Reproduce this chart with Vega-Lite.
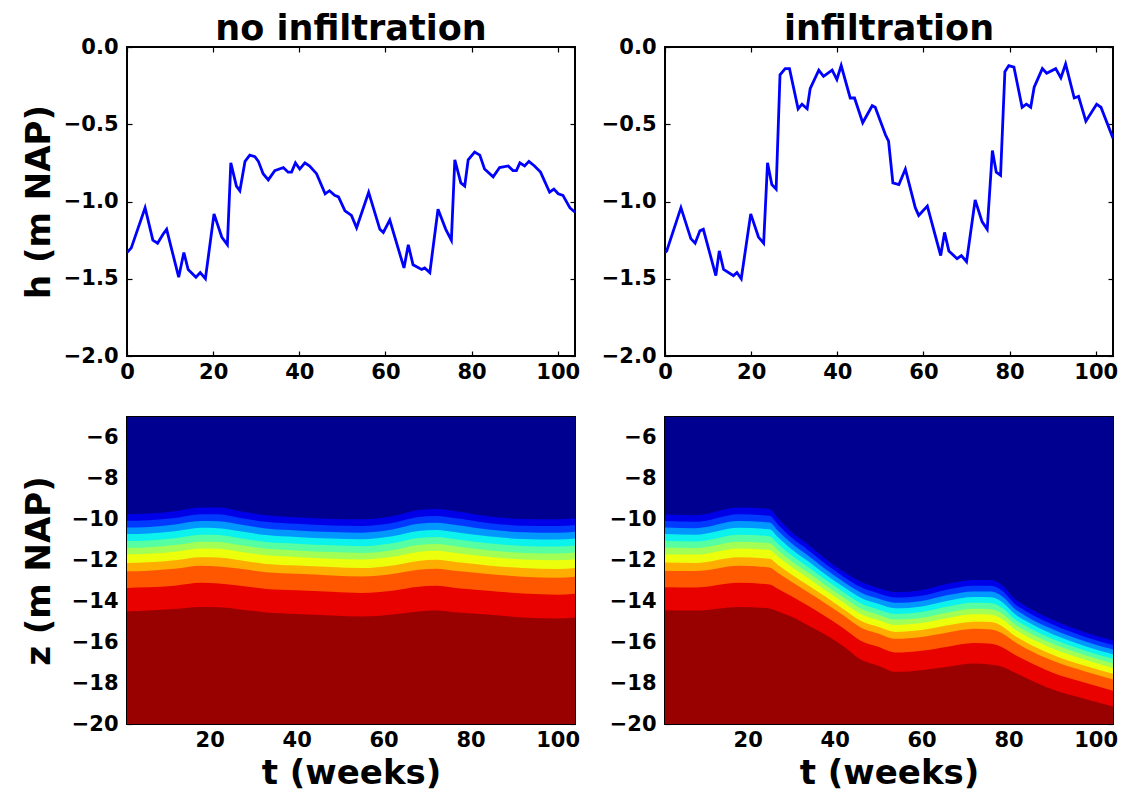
{
  "$schema": "https://vega.github.io/schema/vega-lite/v6.json",
  "autosize": {"type": "none"},
  "padding": {"left": 127, "top": 47, "right": 994, "bottom": 746},
  "background": "#ffffff",
  "datasets": {
    "hL": [
      {"t":0,"h":-1.33},{"t":1,"h":-1.3},{"t":4.2,"h":-1.04},{"t":6,"h":-1.25},{"t":7.1,"h":-1.27},{"t":8.4,"h":-1.21},{"t":9.2,"h":-1.18},{"t":12,"h":-1.49},{"t":13.2,"h":-1.33},{"t":14.2,"h":-1.44},{"t":16,"h":-1.49},{"t":17,"h":-1.46},{"t":18.2,"h":-1.5},{"t":20.2,"h":-1.08},{"t":22,"h":-1.23},{"t":23.3,"h":-1.28},{"t":24.1,"h":-0.75},{"t":25.4,"h":-0.9},{"t":26.2,"h":-0.93},{"t":27.4,"h":-0.74},{"t":28.5,"h":-0.7},{"t":29.7,"h":-0.71},{"t":30.5,"h":-0.74},{"t":31.6,"h":-0.82},{"t":32.8,"h":-0.86},{"t":34.3,"h":-0.8},{"t":36.3,"h":-0.78},{"t":37.4,"h":-0.81},{"t":38.2,"h":-0.81},{"t":39.1,"h":-0.75},{"t":40.1,"h":-0.79},{"t":41.3,"h":-0.75},{"t":42.4,"h":-0.77},{"t":44,"h":-0.82},{"t":46,"h":-0.95},{"t":47,"h":-0.93},{"t":48.2,"h":-0.96},{"t":49.1,"h":-0.97},{"t":50.6,"h":-1.06},{"t":52.1,"h":-1.09},{"t":53.3,"h":-1.17},{"t":56.1,"h":-0.94},{"t":58.7,"h":-1.18},{"t":59.5,"h":-1.2},{"t":61,"h":-1.12},{"t":64.3,"h":-1.43},{"t":65.3,"h":-1.28},{"t":66.4,"h":-1.41},{"t":68.4,"h":-1.44},{"t":69.1,"h":-1.43},{"t":70.3,"h":-1.46},{"t":72.2,"h":-1.05},{"t":74,"h":-1.18},{"t":75.3,"h":-1.25},{"t":76.1,"h":-0.73},{"t":77.5,"h":-0.88},{"t":78.4,"h":-0.9},{"t":79.2,"h":-0.73},{"t":80.7,"h":-0.68},{"t":81.9,"h":-0.7},{"t":83,"h":-0.79},{"t":85,"h":-0.84},{"t":86.5,"h":-0.78},{"t":88.5,"h":-0.77},{"t":89.6,"h":-0.8},{"t":90.4,"h":-0.8},{"t":91.2,"h":-0.75},{"t":92.3,"h":-0.77},{"t":93.3,"h":-0.74},{"t":94.6,"h":-0.77},{"t":96,"h":-0.81},{"t":98.1,"h":-0.94},{"t":99.1,"h":-0.92},{"t":100.1,"h":-0.95},{"t":101.2,"h":-0.96},{"t":102.8,"h":-1.04},{"t":104,"h":-1.07}
    ],
    "hR": [
      {"t":0,"h":-1.33},{"t":0.4,"h":-1.32},{"t":3.7,"h":-1.04},{"t":6,"h":-1.24},{"t":7,"h":-1.27},{"t":8.1,"h":-1.19},{"t":8.9,"h":-1.18},{"t":11.8,"h":-1.48},{"t":12.6,"h":-1.32},{"t":13.6,"h":-1.44},{"t":15.9,"h":-1.48},{"t":16.7,"h":-1.46},{"t":17.7,"h":-1.5},{"t":19.9,"h":-1.08},{"t":21.7,"h":-1.23},{"t":22.9,"h":-1.27},{"t":23.8,"h":-0.75},{"t":24.8,"h":-0.89},{"t":25.8,"h":-0.92},{"t":26.7,"h":-0.18},{"t":27.9,"h":-0.14},{"t":28.9,"h":-0.14},{"t":30.9,"h":-0.4},{"t":31.8,"h":-0.37},{"t":33,"h":-0.4},{"t":33.7,"h":-0.27},{"t":35.7,"h":-0.15},{"t":36.8,"h":-0.19},{"t":38.8,"h":-0.15},{"t":39.9,"h":-0.21},{"t":40.9,"h":-0.12},{"t":43,"h":-0.33},{"t":44,"h":-0.33},{"t":45.9,"h":-0.49},{"t":48.1,"h":-0.38},{"t":48.8,"h":-0.39},{"t":51.2,"h":-0.57},{"t":51.9,"h":-0.61},{"t":52.9,"h":-0.88},{"t":54.3,"h":-0.89},{"t":55.8,"h":-0.79},{"t":58.1,"h":-1.04},{"t":58.9,"h":-1.09},{"t":60.9,"h":-1.03},{"t":64,"h":-1.35},{"t":64.9,"h":-1.2},{"t":65.9,"h":-1.32},{"t":67.8,"h":-1.37},{"t":68.8,"h":-1.35},{"t":70,"h":-1.39},{"t":72,"h":-0.99},{"t":73.6,"h":-1.13},{"t":74.8,"h":-1.18},{"t":76,"h":-0.67},{"t":76.9,"h":-0.81},{"t":77.9,"h":-0.83},{"t":78.9,"h":-0.16},{"t":79.8,"h":-0.12},{"t":81,"h":-0.13},{"t":82.9,"h":-0.39},{"t":83.9,"h":-0.37},{"t":84.9,"h":-0.39},{"t":85.7,"h":-0.26},{"t":87.6,"h":-0.14},{"t":88.6,"h":-0.17},{"t":90.7,"h":-0.14},{"t":91.9,"h":-0.2},{"t":93,"h":-0.11},{"t":95,"h":-0.33},{"t":96,"h":-0.32},{"t":97.7,"h":-0.48},{"t":100.2,"h":-0.37},{"t":101.2,"h":-0.39},{"t":104,"h":-0.59}
    ],
    "zL": [
      {"t":1,"b0":-5,"b1":-9.75,"b2":-10.07,"b3":-10.4,"b4":-10.72,"b5":-11.06,"b6":-11.39,"b7":-11.71,"b8":-12.13,"b9":-12.54,"b10":-13.35,"b11":-14.5},
      {"t":6,"b0":-5,"b1":-9.72,"b2":-10.04,"b3":-10.37,"b4":-10.69,"b5":-11.03,"b6":-11.36,"b7":-11.68,"b8":-12.1,"b9":-12.51,"b10":-13.32,"b11":-14.45},
      {"t":12,"b0":-5,"b1":-9.6,"b2":-9.93,"b3":-10.25,"b4":-10.58,"b5":-10.92,"b6":-11.26,"b7":-11.58,"b8":-12.0,"b9":-12.42,"b10":-13.24,"b11":-14.38},
      {"t":18,"b0":-5,"b1":-9.42,"b2":-9.75,"b3":-10.08,"b4":-10.41,"b5":-10.75,"b6":-11.09,"b7":-11.42,"b8":-11.85,"b9":-12.27,"b10":-13.1,"b11":-14.28},
      {"t":22,"b0":-5,"b1":-9.42,"b2":-9.75,"b3":-10.09,"b4":-10.43,"b5":-10.77,"b6":-11.11,"b7":-11.44,"b8":-11.87,"b9":-12.3,"b10":-13.13,"b11":-14.3},
      {"t":27,"b0":-5,"b1":-9.6,"b2":-9.93,"b3":-10.25,"b4":-10.58,"b5":-10.92,"b6":-11.26,"b7":-11.58,"b8":-12.0,"b9":-12.42,"b10":-13.24,"b11":-14.4},
      {"t":33,"b0":-5,"b1":-9.8,"b2":-10.12,"b3":-10.45,"b4":-10.77,"b5":-11.11,"b6":-11.44,"b7":-11.76,"b8":-12.18,"b9":-12.59,"b10":-13.4,"b11":-14.55},
      {"t":40,"b0":-5,"b1":-9.9,"b2":-10.22,"b3":-10.54,"b4":-10.86,"b5":-11.19,"b6":-11.52,"b7":-11.84,"b8":-12.25,"b9":-12.66,"b10":-13.46,"b11":-14.62},
      {"t":48,"b0":-5,"b1":-9.98,"b2":-10.3,"b3":-10.62,"b4":-10.94,"b5":-11.27,"b6":-11.6,"b7":-11.92,"b8":-12.33,"b9":-12.74,"b10":-13.54,"b11":-14.7},
      {"t":55,"b0":-5,"b1":-10.0,"b2":-10.32,"b3":-10.65,"b4":-10.97,"b5":-11.31,"b6":-11.64,"b7":-11.96,"b8":-12.38,"b9":-12.79,"b10":-13.6,"b11":-14.75},
      {"t":62,"b0":-5,"b1":-9.85,"b2":-10.18,"b3":-10.5,"b4":-10.83,"b5":-11.17,"b6":-11.51,"b7":-11.83,"b8":-12.25,"b9":-12.67,"b10":-13.49,"b11":-14.65},
      {"t":68,"b0":-5,"b1":-9.55,"b2":-9.89,"b3":-10.22,"b4":-10.57,"b5":-10.91,"b6":-11.26,"b7":-11.59,"b8":-12.03,"b9":-12.46,"b10":-13.3,"b11":-14.5},
      {"t":72,"b0":-5,"b1":-9.5,"b2":-9.84,"b3":-10.17,"b4":-10.52,"b5":-10.86,"b6":-11.21,"b7":-11.54,"b8":-11.98,"b9":-12.41,"b10":-13.25,"b11":-14.45},
      {"t":77,"b0":-5,"b1":-9.62,"b2":-9.96,"b3":-10.29,"b4":-10.64,"b5":-10.98,"b6":-11.33,"b7":-11.66,"b8":-12.1,"b9":-12.53,"b10":-13.37,"b11":-14.55},
      {"t":84,"b0":-5,"b1":-9.85,"b2":-10.18,"b3":-10.5,"b4":-10.83,"b5":-11.17,"b6":-11.51,"b7":-11.83,"b8":-12.25,"b9":-12.67,"b10":-13.49,"b11":-14.65},
      {"t":92,"b0":-5,"b1":-9.98,"b2":-10.31,"b3":-10.63,"b4":-10.96,"b5":-11.3,"b6":-11.64,"b7":-11.96,"b8":-12.38,"b9":-12.8,"b10":-13.62,"b11":-14.8},
      {"t":100,"b0":-5,"b1":-10.0,"b2":-10.33,"b3":-10.66,"b4":-10.99,"b5":-11.33,"b6":-11.67,"b7":-12.0,"b8":-12.43,"b9":-12.85,"b10":-13.68,"b11":-14.85},
      {"t":104,"b0":-5,"b1":-9.95,"b2":-10.28,"b3":-10.61,"b4":-10.94,"b5":-11.28,"b6":-11.62,"b7":-11.95,"b8":-12.38,"b9":-12.8,"b10":-13.63,"b11":-14.8}
    ],
    "zR": [
      {"t":1,"b0":-5,"b1":-9.76,"b2":-10.08,"b3":-10.4,"b4":-10.72,"b5":-11.05,"b6":-11.38,"b7":-11.7,"b8":-12.11,"b9":-12.52,"b10":-13.32,"b11":-14.44},
      {"t":8,"b0":-5,"b1":-9.8,"b2":-10.12,"b3":-10.43,"b4":-10.75,"b5":-11.08,"b6":-11.4,"b7":-11.72,"b8":-12.13,"b9":-12.53,"b10":-13.33,"b11":-14.46},
      {"t":18,"b0":-5,"b1":-9.42,"b2":-9.75,"b3":-10.08,"b4":-10.41,"b5":-10.75,"b6":-11.09,"b7":-11.42,"b8":-11.85,"b9":-12.27,"b10":-13.1,"b11":-14.28},
      {"t":25,"b0":-5,"b1":-9.5,"b2":-9.83,"b3":-10.16,"b4":-10.49,"b5":-10.83,"b6":-11.17,"b7":-11.5,"b8":-11.93,"b9":-12.35,"b10":-13.18,"b11":-14.36},
      {"t":27,"b0":-5,"b1":-9.95,"b2":-10.26,"b3":-10.57,"b4":-10.88,"b5":-11.2,"b6":-11.52,"b7":-11.83,"b8":-12.23,"b9":-12.62,"b10":-13.4,"b11":-14.5},
      {"t":30,"b0":-5,"b1":-10.6,"b2":-10.88,"b3":-11.16,"b4":-11.45,"b5":-11.74,"b6":-12.03,"b7":-12.31,"b8":-12.68,"b9":-13.04,"b10":-13.75,"b11":-14.75},
      {"t":34,"b0":-5,"b1":-11.25,"b2":-11.52,"b3":-11.79,"b4":-12.06,"b5":-12.34,"b6":-12.61,"b7":-12.88,"b8":-13.23,"b9":-13.57,"b10":-14.24,"b11":-15.2},
      {"t":38,"b0":-5,"b1":-11.95,"b2":-12.2,"b3":-12.45,"b4":-12.71,"b5":-12.97,"b6":-13.23,"b7":-13.48,"b8":-13.8,"b9":-14.12,"b10":-14.76,"b11":-15.65},
      {"t":42,"b0":-5,"b1":-12.55,"b2":-12.8,"b3":-13.05,"b4":-13.3,"b5":-13.55,"b6":-13.81,"b7":-14.06,"b8":-14.38,"b9":-14.69,"b10":-15.32,"b11":-16.2},
      {"t":46,"b0":-5,"b1":-13.05,"b2":-13.31,"b3":-13.57,"b4":-13.83,"b5":-14.1,"b6":-14.36,"b7":-14.62,"b8":-14.95,"b9":-15.28,"b10":-15.93,"b11":-16.85},
      {"t":50,"b0":-5,"b1":-13.35,"b2":-13.61,"b3":-13.87,"b4":-14.13,"b5":-14.4,"b6":-14.66,"b7":-14.92,"b8":-15.25,"b9":-15.58,"b10":-16.23,"b11":-17.15},
      {"t":54,"b0":-5,"b1":-13.55,"b2":-13.82,"b3":-14.08,"b4":-14.35,"b5":-14.62,"b6":-14.9,"b7":-15.16,"b8":-15.5,"b9":-15.84,"b10":-16.51,"b11":-17.45},
      {"t":60,"b0":-5,"b1":-13.46,"b2":-13.73,"b3":-13.99,"b4":-14.26,"b5":-14.53,"b6":-14.81,"b7":-15.07,"b8":-15.41,"b9":-15.75,"b10":-16.42,"b11":-17.37},
      {"t":66,"b0":-5,"b1":-13.15,"b2":-13.43,"b3":-13.7,"b4":-13.98,"b5":-14.26,"b6":-14.55,"b7":-14.82,"b8":-15.18,"b9":-15.53,"b10":-16.22,"b11":-17.2},
      {"t":72,"b0":-5,"b1":-12.97,"b2":-13.25,"b3":-13.52,"b4":-13.8,"b5":-14.08,"b6":-14.37,"b7":-14.64,"b8":-15.0,"b9":-15.35,"b10":-16.04,"b11":-17.04},
      {"t":76,"b0":-5,"b1":-12.97,"b2":-13.25,"b3":-13.53,"b4":-13.81,"b5":-14.1,"b6":-14.39,"b7":-14.66,"b8":-15.02,"b9":-15.38,"b10":-16.08,"b11":-17.1},
      {"t":78.5,"b0":-5,"b1":-13.22,"b2":-13.49,"b3":-13.76,"b4":-14.04,"b5":-14.32,"b6":-14.6,"b7":-14.87,"b8":-15.22,"b9":-15.57,"b10":-16.25,"b11":-17.2},
      {"t":81.5,"b0":-5,"b1":-13.9,"b2":-14.15,"b3":-14.39,"b4":-14.64,"b5":-14.89,"b6":-15.14,"b7":-15.39,"b8":-15.7,"b9":-16.01,"b10":-16.63,"b11":-17.5},
      {"t":84,"b0":-5,"b1":-14.25,"b2":-14.49,"b3":-14.73,"b4":-14.97,"b5":-15.21,"b6":-15.46,"b7":-15.7,"b8":-16.0,"b9":-16.31,"b10":-16.9,"b11":-17.75},
      {"t":90,"b0":-5,"b1":-14.9,"b2":-15.13,"b3":-15.36,"b4":-15.6,"b5":-15.84,"b6":-16.07,"b7":-16.3,"b8":-16.6,"b9":-16.9,"b10":-17.48,"b11":-18.3},
      {"t":98,"b0":-5,"b1":-15.55,"b2":-15.77,"b3":-15.99,"b4":-16.22,"b5":-16.44,"b6":-16.67,"b7":-16.89,"b8":-17.18,"b9":-17.46,"b10":-18.01,"b11":-18.8},
      {"t":104,"b0":-5,"b1":-15.92,"b2":-16.14,"b3":-16.36,"b4":-16.59,"b5":-16.81,"b6":-17.04,"b7":-17.26,"b8":-17.55,"b9":-17.83,"b10":-18.38,"b11":-19.15}
    ]
  },
  "concat": [
    {
      "title": "no infiltration",
      "width": 448, "height": 309,
      "data": {"name": "hL"},
      "layer": [
        {"mark": {"type": "line", "color": "#0000ff", "strokeWidth": 2.8, "clip": true},
         "encoding": {
           "x": {"field": "t", "type": "quantitative", "scale": {"domain": [0, 104], "nice": false, "zero": false}, "axis": {"values": [0, 20, 40, 60, 80, 100], "title": null}},
           "y": {"field": "h", "type": "quantitative", "scale": {"domain": [-2, 0], "nice": false, "zero": false}, "axis": {"values": [-2, -1.5, -1, -0.5, 0], "format": ".1f", "title": "h (m NAP)", "titleX": -78, "titleY": 154.5, "titleAngle": 270, "titleAlign": "center", "titleBaseline": "alphabetic"}}
         }},
        {"mark": {"type": "point", "opacity": 0},
         "encoding": {
           "x": {"field": "t", "type": "quantitative", "axis": {"orient": "top", "labels": false, "values": [0, 20, 40, 60, 80, 100], "title": null}},
           "y": {"field": "h", "type": "quantitative", "axis": {"orient": "right", "labels": false, "values": [-2, -1.5, -1, -0.5, 0], "title": null}}
         }}
      ],
      "resolve": {"axis": {"x": "independent", "y": "independent"}}
    },
    {
      "title": "infiltration",
      "width": 448, "height": 309,
      "data": {"name": "hR"},
      "layer": [
        {"mark": {"type": "line", "color": "#0000ff", "strokeWidth": 2.8, "clip": true},
         "encoding": {
           "x": {"field": "t", "type": "quantitative", "scale": {"domain": [0, 104], "nice": false, "zero": false}, "axis": {"values": [0, 20, 40, 60, 80, 100], "title": null}},
           "y": {"field": "h", "type": "quantitative", "scale": {"domain": [-2, 0], "nice": false, "zero": false}, "axis": {"values": [-2, -1.5, -1, -0.5, 0], "format": ".1f", "title": null}}
         }},
        {"mark": {"type": "point", "opacity": 0},
         "encoding": {
           "x": {"field": "t", "type": "quantitative", "axis": {"orient": "top", "labels": false, "values": [0, 20, 40, 60, 80, 100], "title": null}},
           "y": {"field": "h", "type": "quantitative", "axis": {"orient": "right", "labels": false, "values": [-2, -1.5, -1, -0.5, 0], "title": null}}
         }}
      ],
      "resolve": {"axis": {"x": "independent", "y": "independent"}}
    },
    {
      "width": 448, "height": 307,
      "data": {"name": "zL"},
      "transform": [{"fold": ["b0", "b1", "b2", "b3", "b4", "b5", "b6", "b7", "b8", "b9", "b10", "b11"], "as": ["k", "z"]}],
      "layer": [
        {"mark": {"type": "area", "interpolate": "monotone", "clip": true},
         "encoding": {
           "x": {"field": "t", "type": "quantitative", "scale": {"domain": [1, 104], "nice": false, "zero": false}, "axis": {"values": [20, 40, 60, 80, 100], "title": "t (weeks)", "titleX": 224, "titleY": 59, "titleAlign": "center", "titleBaseline": "alphabetic"}},
           "y": {"field": "z", "type": "quantitative", "scale": {"domain": [-20, -5], "nice": false, "zero": false}, "axis": {"values": [-20, -18, -16, -14, -12, -10, -8, -6], "title": "z (m NAP)", "titleX": -78, "titleY": 153.5, "titleAngle": 270, "titleAlign": "center", "titleBaseline": "alphabetic"}},
           "y2": {"datum": -20},
           "color": {"field": "k", "type": "nominal", "legend": null, "scale": {"domain": ["b0", "b1", "b2", "b3", "b4", "b5", "b6", "b7", "b8", "b9", "b10", "b11"], "range": ["#000090", "#0000e8", "#003aff", "#0097ff", "#0bf3ec", "#56ffa1", "#a1ff56", "#ecff0b", "#ffad00", "#ff5700", "#e90100", "#990000"]}}
         }},
        {"mark": {"type": "point", "opacity": 0},
         "encoding": {
           "x": {"field": "t", "type": "quantitative", "axis": {"orient": "top", "labels": false, "values": [20, 40, 60, 80, 100], "title": null}},
           "y": {"field": "z", "type": "quantitative", "axis": {"orient": "right", "labels": false, "values": [-20, -18, -16, -14, -12, -10, -8, -6], "title": null}}
         }}
      ],
      "resolve": {"axis": {"x": "independent", "y": "independent"}}
    },
    {
      "width": 448, "height": 307,
      "data": {"name": "zR"},
      "transform": [{"fold": ["b0", "b1", "b2", "b3", "b4", "b5", "b6", "b7", "b8", "b9", "b10", "b11"], "as": ["k", "z"]}],
      "layer": [
        {"mark": {"type": "area", "interpolate": "monotone", "clip": true},
         "encoding": {
           "x": {"field": "t", "type": "quantitative", "scale": {"domain": [1, 104], "nice": false, "zero": false}, "axis": {"values": [20, 40, 60, 80, 100], "title": "t (weeks)", "titleX": 224, "titleY": 59, "titleAlign": "center", "titleBaseline": "alphabetic"}},
           "y": {"field": "z", "type": "quantitative", "scale": {"domain": [-20, -5], "nice": false, "zero": false}, "axis": {"values": [-20, -18, -16, -14, -12, -10, -8, -6], "title": null}},
           "y2": {"datum": -20},
           "color": {"field": "k", "type": "nominal", "legend": null, "scale": {"domain": ["b0", "b1", "b2", "b3", "b4", "b5", "b6", "b7", "b8", "b9", "b10", "b11"], "range": ["#000090", "#0000e8", "#003aff", "#0097ff", "#0bf3ec", "#56ffa1", "#a1ff56", "#ecff0b", "#ffad00", "#ff5700", "#e90100", "#990000"]}}
         }},
        {"mark": {"type": "point", "opacity": 0},
         "encoding": {
           "x": {"field": "t", "type": "quantitative", "axis": {"orient": "top", "labels": false, "values": [20, 40, 60, 80, 100], "title": null}},
           "y": {"field": "z", "type": "quantitative", "axis": {"orient": "right", "labels": false, "values": [-20, -18, -16, -14, -12, -10, -8, -6], "title": null}}
         }}
      ],
      "resolve": {"axis": {"x": "independent", "y": "independent"}}
    }
  ],
  "columns": 2,
  "spacing": {"row": 61, "column": 90},
  "bounds": "flush",
  "config": {
    "font": "DejaVu Sans",
    "view": {"stroke": "#000000", "strokeWidth": 2},
    "axis": {"grid": false, "domain": false, "labelFont": "DejaVu Sans", "labelFontSize": 21, "labelFontWeight": "bold", "labelColor": "#000000", "tickColor": "#000000", "tickSize": -5, "tickWidth": 1.2, "labelPadding": 14, "titleFont": "DejaVu Sans", "titleFontSize": 34, "titleFontWeight": "bold", "titleColor": "#000000", "labelFlush": false, "labelOverlap": false},
    "axisX": {"labelPadding": 10},
    "title": {"font": "DejaVu Sans", "fontSize": 35, "fontWeight": "bold", "color": "#000000", "offset": 7, "dy": 18, "baseline": "alphabetic"}
  }
}
